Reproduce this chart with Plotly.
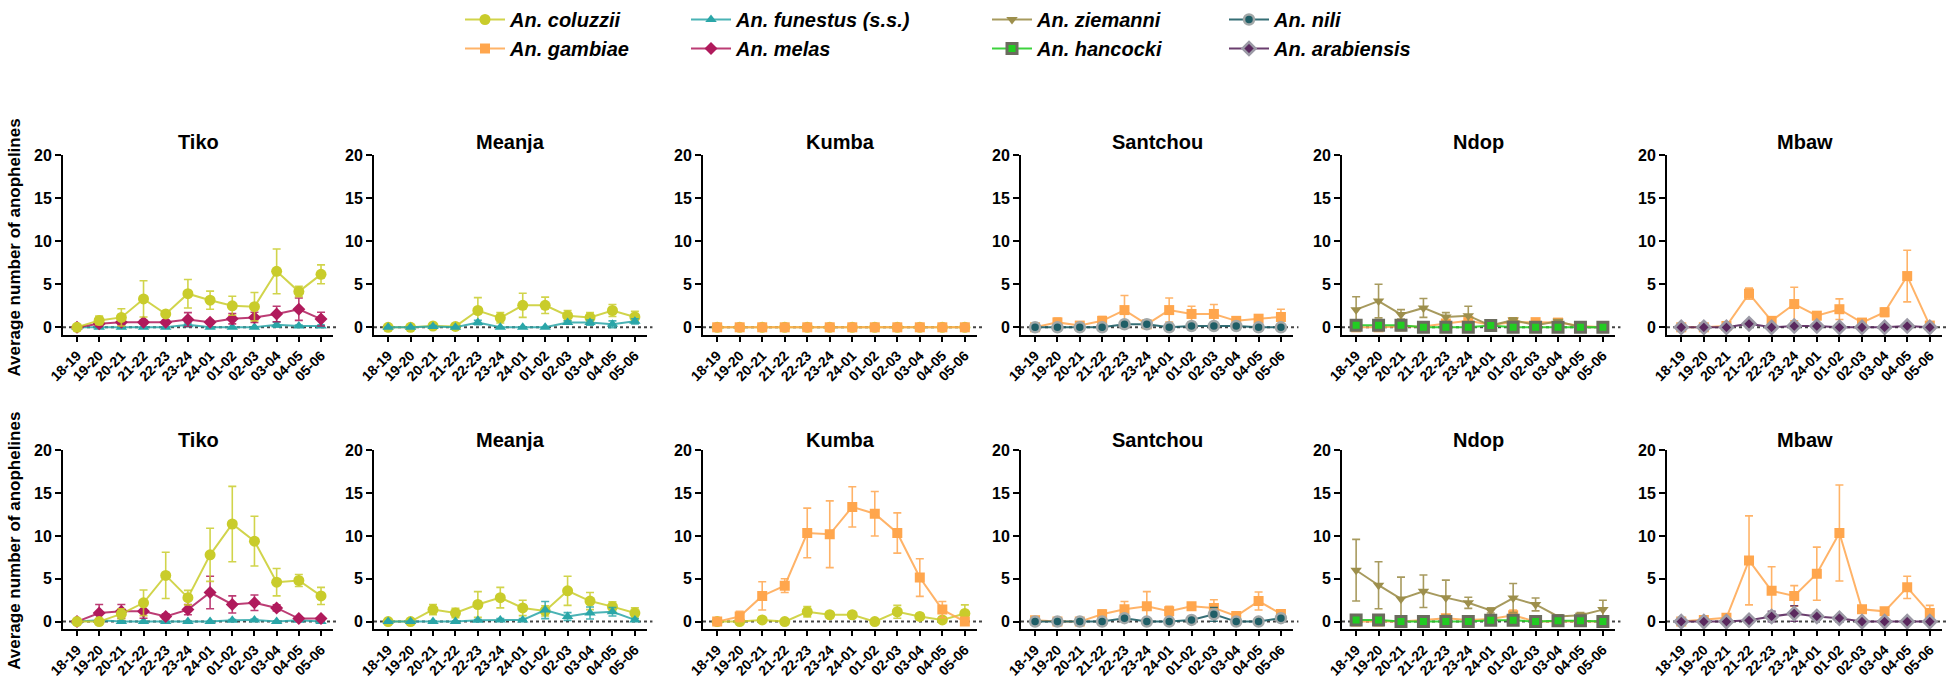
import plotly.graph_objects as go

# ---------------- data ----------------
times = ["18-19", "19-20", "20-21", "21-22", "22-23", "23-24",
         "24-01", "01-02", "02-03", "03-04", "04-05", "05-06"]
sites = ["Tiko", "Meanja", "Kumba", "Santchou", "Ndop", "Mbaw"]
y_title = "Average number of anophelines"
y_ticks = [0, 5, 10, 15, 20]

# ---- row 1 ----
tiko_r1_coluzzii = [0, 0.8, 1.15, 3.3, 1.55, 3.9, 3.15, 2.5, 2.4, 6.5, 4.15, 6.15]
tiko_r1_coluzzii_se = [0.1, 0.5, 1.0, 2.1, 0.15, 1.65, 1.05, 1.1, 1.65, 2.6, 0.6, 1.1]
tiko_r1_melas = [0, 0.4, 0.6, 0.6, 0.6, 0.9, 0.6, 1.0, 1.15, 1.55, 2.1, 0.95]
tiko_r1_melas_se = [0, 0.3, 0.3, 0.2, 0.2, 0.8, 0.2, 0.6, 0.6, 0.9, 1.3, 0.8]
tiko_r1_funestus = [0, 0, 0, 0, 0, 0.3, 0, 0, 0, 0.3, 0.15, 0.15]
tiko_r1_funestus_se = [0, 0, 0, 0, 0, 0.2, 0, 0, 0, 0.3, 0.1, 0.1]

meanja_r1_coluzzii = [0, 0, 0.15, 0.1, 1.95, 1.1, 2.55, 2.55, 1.35, 1.15, 1.95, 1.2]
meanja_r1_coluzzii_se = [0, 0, 0.1, 0.1, 1.5, 0.6, 1.4, 0.95, 0.6, 0.55, 0.7, 0.65]
meanja_r1_funestus = [0, 0, 0.1, 0, 0.55, 0, 0, 0, 0.55, 0.55, 0.35, 0.7]
meanja_r1_funestus_se = [0, 0, 0.1, 0, 0.25, 0, 0, 0, 0.2, 0.3, 0.4, 0.3]

kumba_r1_coluzzii = [0, 0, 0, 0, 0, 0, 0, 0, 0, 0, 0, 0]
kumba_r1_coluzzii_se = [0, 0, 0, 0, 0, 0, 0, 0, 0, 0, 0, 0]
kumba_r1_gambiae = [0, 0, 0, 0, 0, 0, 0, 0, 0, 0, 0, 0]
kumba_r1_gambiae_se = [0, 0, 0, 0, 0, 0, 0, 0, 0, 0, 0, 0]

santchou_r1_gambiae = [0, 0.57, 0.2, 0.75, 2.0, 0.35, 2.0, 1.55, 1.55, 0.75, 1.0, 1.2]
santchou_r1_gambiae_se = [0, 0.5, 0.1, 0.5, 1.7, 0.1, 1.4, 0.9, 1.1, 0.2, 0.3, 0.9]
santchou_r1_nili = [0, 0, 0, 0, 0.35, 0.35, 0, 0.15, 0.15, 0.15, 0, 0]
santchou_r1_nili_se = [0, 0, 0, 0, 0.1, 0.1, 0, 0.1, 0.1, 0.1, 0, 0]

ndop_r1_ziemanni = [2.05, 3.05, 1.5, 2.25, 1.2, 1.35, 0.2, 0.85, 0.25, 0.7, 0, 0]
ndop_r1_ziemanni_se = [1.5, 1.95, 0.55, 1.1, 0.5, 1.1, 0.1, 0.25, 0.1, 0.15, 0, 0]
ndop_r1_gambiae = [0, 0, 0.1, 0.1, 0.45, 0.75, 0.3, 0.6, 0.6, 0.55, 0.15, 0]
ndop_r1_gambiae_se = [0, 0, 0.1, 0.1, 0.3, 0.4, 0.2, 0.3, 0.3, 0.3, 0.1, 0]
ndop_r1_hancocki = [0.25, 0.25, 0.25, 0, 0, 0, 0.2, 0, 0, 0, 0, 0]
ndop_r1_hancocki_se = [0.1, 0.1, 0.1, 0, 0, 0, 0.1, 0, 0, 0, 0, 0]

mbaw_r1_gambiae = [0, 0, 0.15, 3.9, 0.75, 2.7, 1.35, 2.1, 0.55, 1.75, 5.95, 0.2]
mbaw_r1_gambiae_se = [0, 0, 0.1, 0.65, 0.35, 1.95, 0.45, 1.2, 0.3, 0.5, 3.0, 0.1]
mbaw_r1_arabiensis = [0, 0, 0, 0.4, 0, 0.15, 0.15, 0, 0, 0, 0.15, 0]
mbaw_r1_arabiensis_se = [0, 0, 0, 0.35, 0, 0.1, 0.1, 0, 0, 0, 0.1, 0]

# ---- row 2 ----
tiko_r2_coluzzii = [0, 0, 0.9, 2.2, 5.4, 2.8, 7.8, 11.4, 9.4, 4.6, 4.8, 3.0]
tiko_r2_coluzzii_se = [0, 0, 0.6, 1.5, 2.7, 0.85, 3.1, 4.4, 2.9, 1.6, 0.7, 1.0]
tiko_r2_melas = [0, 1.0, 1.2, 1.2, 0.6, 1.4, 3.4, 2.0, 2.2, 1.6, 0.35, 0.35]
tiko_r2_melas_se = [0, 1.0, 0.8, 0.8, 0.3, 0.6, 1.9, 1.0, 0.9, 0.35, 0.2, 0.2]
tiko_r2_funestus = [0, 0.15, 0, 0, 0, 0, 0, 0.15, 0.2, 0, 0.15, 0]
tiko_r2_funestus_se = [0, 0.1, 0, 0, 0, 0, 0, 0.1, 0.1, 0, 0.1, 0]

meanja_r2_coluzzii = [0, 0, 1.4, 1.0, 2.0, 2.8, 1.6, 1.25, 3.6, 2.4, 1.75, 1.0]
meanja_r2_coluzzii_se = [0, 0, 0.6, 0.55, 1.5, 1.2, 0.9, 0.6, 1.7, 1.0, 0.55, 0.6]
meanja_r2_funestus = [0, 0, 0, 0, 0.15, 0.2, 0.2, 1.35, 0.6, 1.0, 1.15, 0.2]
meanja_r2_funestus_se = [0, 0, 0, 0, 0.1, 0.15, 0.15, 1.0, 0.45, 0.7, 0.5, 0.15]

kumba_r2_coluzzii = [0, 0, 0.2, 0, 1.15, 0.8, 0.8, 0, 1.15, 0.6, 0.2, 0.95]
kumba_r2_coluzzii_se = [0, 0, 0.1, 0, 0.6, 0.3, 0.15, 0, 0.75, 0.35, 0.1, 1.0]
kumba_r2_gambiae = [0, 0.6, 3.0, 4.2, 10.35, 10.2, 13.4, 12.6, 10.35, 5.15, 1.4, 0]
kumba_r2_gambiae_se = [0, 0.6, 1.65, 0.8, 2.9, 3.9, 2.35, 2.6, 2.35, 2.2, 0.95, 0]

santchou_r2_gambiae = [0.15, 0, 0, 0.85, 1.45, 1.8, 1.2, 1.8, 1.6, 0.65, 2.4, 0.9]
santchou_r2_gambiae_se = [0.15, 0, 0, 0.5, 0.9, 1.7, 0.6, 0.4, 0.95, 0.5, 1.05, 0.2]
santchou_r2_nili = [0, 0, 0, 0, 0.4, 0, 0, 0.2, 0.85, 0, 0, 0.4]
santchou_r2_nili_se = [0, 0, 0, 0, 0.2, 0, 0, 0.1, 0.8, 0, 0, 0.2]

ndop_r2_ziemanni = [6.0, 4.25, 2.65, 3.55, 2.8, 2.2, 1.3, 2.75, 2.0, 0.6, 0.75, 1.4]
ndop_r2_ziemanni_se = [3.6, 2.75, 2.55, 1.9, 2.05, 0.65, 0.3, 1.7, 0.75, 0.1, 0.3, 1.1]
ndop_r2_gambiae = [0, 0, 0, 0.2, 0.4, 0.2, 0.3, 0.75, 0, 0, 0, 0]
ndop_r2_gambiae_se = [0, 0, 0, 0.15, 0.2, 0.1, 0.2, 0.6, 0, 0, 0, 0]
ndop_r2_hancocki = [0.2, 0.2, 0, 0, 0, 0, 0.15, 0.15, 0, 0.1, 0.1, 0]
ndop_r2_hancocki_se = [0.1, 0.1, 0, 0, 0, 0, 0.1, 0.1, 0, 0.1, 0.1, 0]

mbaw_r2_gambiae = [0, 0.2, 0.45, 7.15, 3.6, 3.0, 5.6, 10.35, 1.45, 1.2, 4.0, 1.0]
mbaw_r2_gambiae_se = [0, 0.1, 0.2, 5.2, 2.8, 1.2, 3.1, 5.6, 0.4, 0.35, 1.3, 0.9]
mbaw_r2_arabiensis = [0, 0, 0, 0.15, 0.6, 0.95, 0.6, 0.4, 0, 0, 0, 0]
mbaw_r2_arabiensis_se = [0, 0, 0, 0.1, 0.6, 0.9, 0.4, 0.3, 0, 0, 0, 0]

# ---------------- styles ----------------
species_style = {
    "coluzzii":   dict(name="An. coluzzii", line="rgba(201,204,43,0.85)", mcolor="#c9cc2b",
                       mline="#c9cc2b", mlw=0, symbol="circle", size=11, legend="legend", rank=1),
    "gambiae":    dict(name="An. gambiae", line="rgba(255,166,77,0.85)", mcolor="#ffa64d",
                       mline="#ffa64d", mlw=0, symbol="square", size=10, legend="legend", rank=2),
    "funestus":   dict(name="An. funestus (s.s.)", line="rgba(42,166,168,0.85)", mcolor="#2aa6a8",
                       mline="#2aa6a8", mlw=0, symbol="triangle-up", size=10, legend="legend2", rank=1),
    "melas":      dict(name="An. melas", line="rgba(176,26,92,0.85)", mcolor="#b01a5c",
                       mline="#b01a5c", mlw=0, symbol="diamond", size=10, legend="legend2", rank=2),
    "ziemanni":   dict(name="An. ziemanni", line="rgba(157,143,76,0.9)", mcolor="#9d8f4c",
                       mline="#9d8f4c", mlw=0, symbol="triangle-down", size=10, legend="legend3", rank=1),
    "hancocki":   dict(name="An. hancocki", line="rgba(40,205,40,0.9)", mcolor="#22cc22",
                       mline="#6b6b5e", mlw=3, symbol="square", size=10, legend="legend3", rank=2),
    "nili":       dict(name="An. nili", line="rgba(31,94,102,0.9)", mcolor="#1f5e66",
                       mline="#a2a8a8", mlw=2.5, symbol="circle", size=10, legend="legend4", rank=1),
    "arabiensis": dict(name="An. arabiensis", line="rgba(90,40,94,0.9)", mcolor="#5a285e",
                       mline="#9c9aa6", mlw=2.5, symbol="diamond", size=10, legend="legend4", rank=2),
}

panels = [
    # row 1
    [("funestus", tiko_r1_funestus, tiko_r1_funestus_se),
     ("melas", tiko_r1_melas, tiko_r1_melas_se),
     ("coluzzii", tiko_r1_coluzzii, tiko_r1_coluzzii_se)],
    [("coluzzii", meanja_r1_coluzzii, meanja_r1_coluzzii_se),
     ("funestus", meanja_r1_funestus, meanja_r1_funestus_se)],
    [("coluzzii", kumba_r1_coluzzii, kumba_r1_coluzzii_se),
     ("gambiae", kumba_r1_gambiae, kumba_r1_gambiae_se)],
    [("gambiae", santchou_r1_gambiae, santchou_r1_gambiae_se),
     ("nili", santchou_r1_nili, santchou_r1_nili_se)],
    [("gambiae", ndop_r1_gambiae, ndop_r1_gambiae_se),
     ("ziemanni", ndop_r1_ziemanni, ndop_r1_ziemanni_se),
     ("hancocki", ndop_r1_hancocki, ndop_r1_hancocki_se)],
    [("gambiae", mbaw_r1_gambiae, mbaw_r1_gambiae_se),
     ("arabiensis", mbaw_r1_arabiensis, mbaw_r1_arabiensis_se)],
    # row 2
    [("funestus", tiko_r2_funestus, tiko_r2_funestus_se),
     ("melas", tiko_r2_melas, tiko_r2_melas_se),
     ("coluzzii", tiko_r2_coluzzii, tiko_r2_coluzzii_se)],
    [("coluzzii", meanja_r2_coluzzii, meanja_r2_coluzzii_se),
     ("funestus", meanja_r2_funestus, meanja_r2_funestus_se)],
    [("coluzzii", kumba_r2_coluzzii, kumba_r2_coluzzii_se),
     ("gambiae", kumba_r2_gambiae, kumba_r2_gambiae_se)],
    [("gambiae", santchou_r2_gambiae, santchou_r2_gambiae_se),
     ("nili", santchou_r2_nili, santchou_r2_nili_se)],
    [("gambiae", ndop_r2_gambiae, ndop_r2_gambiae_se),
     ("ziemanni", ndop_r2_ziemanni, ndop_r2_ziemanni_se),
     ("hancocki", ndop_r2_hancocki, ndop_r2_hancocki_se)],
    [("gambiae", mbaw_r2_gambiae, mbaw_r2_gambiae_se),
     ("arabiensis", mbaw_r2_arabiensis, mbaw_r2_arabiensis_se)],
]

# ---------------- layout geometry (pixels) ----------------
W, H = 1946, 683
col_px = [(63, 333), (374, 647), (703, 977), (1021, 1293), (1342, 1615), (1667, 1942)]
row_px = [(152, 333), (449, 629)]     # (top of axis, bottom of axis)
title_y_px = [139, 439]
ytitle_y_px = [245, 540]

FONT = "Liberation Sans, Arial, sans-serif"

fig = go.Figure()
shown = set()
layout_axes = {}
annotations = []
shapes = []

for i, panel in enumerate(panels):
    r, c = divmod(i, 6)
    n = i + 1
    xa = "x" if n == 1 else f"x{n}"
    ya = "y" if n == 1 else f"y{n}"
    for sp, vals, se in panel:
        st = species_style[sp]
        show = sp not in shown
        shown.add(sp)
        fig.add_trace(go.Scatter(
            x=times, y=vals, xaxis=xa, yaxis=ya,
            mode="lines+markers", name=st["name"],
            legend=st["legend"], legendrank=st["rank"], showlegend=show,
            line=dict(color=st["line"], width=2),
            marker=dict(symbol=st["symbol"], size=st["size"], color=st["mcolor"],
                        line=dict(color=st["mline"], width=st["mlw"])),
            error_y=dict(type="data", array=se, visible=True,
                         color=st["line"], thickness=1.6, width=4),
        ))
    x0, x1 = col_px[c]
    t, b = row_px[r]
    layout_axes["xaxis" if n == 1 else f"xaxis{n}"] = dict(
        domain=[x0 / W, x1 / W], anchor=ya, type="category",
        categoryorder="array", categoryarray=times, automargin=False,
        range=[-0.63, 11.54], showgrid=False, zeroline=False,
        showline=True, linecolor="black", linewidth=2,
        ticks="outside", ticklen=5, tickwidth=2, tickcolor="black",
        tickangle=-45,
        tickfont=dict(family=FONT, size=14, color="black", weight="bold"),
    )
    layout_axes["yaxis" if n == 1 else f"yaxis{n}"] = dict(
        domain=[1 - b / H, 1 - t / H], anchor=xa, automargin=False,
        range=[-0.9, 20], tickvals=y_ticks, showgrid=False, zeroline=False,
        showline=True, linecolor="black", linewidth=2,
        ticks="outside", ticklen=6, tickwidth=2, tickcolor="black",
        tickfont=dict(family=FONT, size=16, color="black", weight="bold"),
    )
    shapes.append(dict(type="line", xref=f"{xa} domain", yref=ya,
                       x0=0, x1=1.02, y0=0, y1=0,
                       line=dict(color="#444444", width=2, dash="dot"), layer="below"))
    annotations.append(dict(text=sites[c], xref="paper", yref="paper",
                            x=(x0 + x1) / 2 / W, y=1 - title_y_px[r] / H,
                            xanchor="center", yanchor="middle", showarrow=False,
                            font=dict(family=FONT, size=20, color="black", weight="bold")))

for r in range(2):
    annotations.append(dict(text=y_title, xref="paper", yref="paper",
                            x=15 / W, y=1 - ytitle_y_px[r] / H, textangle=-90,
                            xanchor="center", yanchor="middle", showarrow=False,
                            font=dict(family=FONT, size=17, color="black", weight="bold")))

leg_font = dict(family=FONT, size=20, color="black", style="italic", weight="bold")
leg_x_px = [460, 686, 987, 1224]
legends = {}
for k, lx in enumerate(leg_x_px):
    key = "legend" if k == 0 else f"legend{k + 1}"
    legends[key] = dict(x=lx / W, y=1.006, xanchor="left", yanchor="top",
                        orientation="v", font=leg_font, itemwidth=40,
                        bgcolor="rgba(0,0,0,0)", tracegroupgap=0,
                        traceorder="normal")

fig.update_layout(
    template="none",
    width=W, height=H, autosize=False,
    margin=dict(l=0, r=0, t=0, b=0, pad=0),
    paper_bgcolor="white", plot_bgcolor="white",
    annotations=annotations, shapes=shapes,
    **layout_axes, **legends,
)

fig.write_html(
    "out.html",
    config={"displayModeBar": False},
    post_script="document.body.style.margin='0px';document.body.style.overflow='hidden';",
)
